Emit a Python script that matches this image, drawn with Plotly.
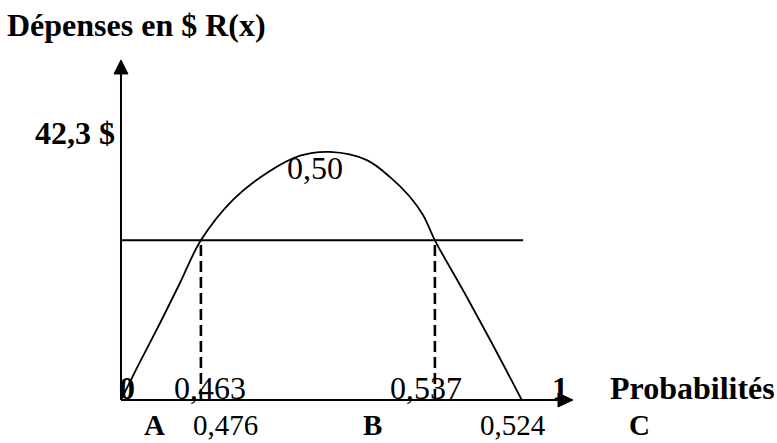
import plotly.graph_objects as go

prob = [0.0, 0.043, 0.089, 0.134, 0.182, 0.255, 0.333, 0.408, 0.476,
        0.560, 0.613, 0.658, 0.688, 0.715, 0.779, 0.841, 0.913]
depenses = [0.0, 6.0, 12.2, 18.5, 25.3, 31.7, 36.0, 38.7, 39.3,
            38.0, 35.3, 32.2, 29.3, 25.3, 17.4, 9.5, 0.0]

seuil = 25.3                # niveau de la droite horizontale
seuil_fin = 0.916           # fin de la droite horizontale
points_seuil = [0.182, 0.715]  # abscisses des pointillés
depense_max = 42.3

labels_haut = ['0', '0,463', '0,537', '1']
labels_bas = ['A', '0,476', 'B', '0,524', 'C']
label_sommet = '0,50'

# bornes des axes dessinés (flèches)
x_fleche = 1.0296
y_fleche = 53.87

POLICE = 'Liberation Serif'
NOIR = '#000000'

fig = go.Figure()

# axes
fig.add_trace(go.Scatter(x=[0, 0], y=[0, y_fleche - 2.0], mode='lines',
                         line=dict(color=NOIR, width=2), hoverinfo='skip'))
fig.add_trace(go.Scatter(x=[0, x_fleche - 0.03], y=[0, 0], mode='lines',
                         line=dict(color=NOIR, width=2), hoverinfo='skip'))

# droite horizontale
fig.add_trace(go.Scatter(x=[0, seuil_fin], y=[seuil, seuil], mode='lines',
                         line=dict(color=NOIR, width=2), hoverinfo='skip'))

# pointillés
for xp in points_seuil:
    fig.add_trace(go.Scatter(x=[xp, xp], y=[0, seuil], mode='lines',
                             line=dict(color=NOIR, width=2.6, dash='11px,5px'),
                             hoverinfo='skip'))

# courbe R(x)
fig.add_trace(go.Scatter(x=prob, y=depenses, mode='lines',
                         line=dict(color=NOIR, width=1.8, shape='spline', smoothing=1.0),
                         hoverinfo='skip'))

# têtes de flèches (en pixels autour de la pointe)
fig.add_shape(type='path', xref='x', yref='y', xsizemode='pixel', ysizemode='pixel',
              xanchor=0, yanchor=y_fleche, path='M0,0 L-7,-14 L7,-14 Z',
              fillcolor=NOIR, line=dict(color=NOIR, width=1))
fig.add_shape(type='path', xref='x', yref='y', xsizemode='pixel', ysizemode='pixel',
              xanchor=x_fleche, yanchor=0, path='M0,0 L-15,7 L-15,-7 Z',
              fillcolor=NOIR, line=dict(color=NOIR, width=1))


def texte(x, y, t, gras=False, xanchor='center', taille=32):
    fig.add_annotation(x=x, y=y, text=f'<b>{t}</b>' if gras else t,
                       showarrow=False, xanchor=xanchor, yanchor='middle',
                       font=dict(family=POLICE, size=taille, color=NOIR))


texte(-0.264, 59.4, 'Dépenses en $ R(x)', gras=True, xanchor='left')
texte(-0.009, depense_max, f'{depense_max:.1f} $'.replace('.', ','), gras=True, xanchor='right')
texte(0.442, 36.8, label_sommet)

pos_haut = [0.0137, 0.2027, 0.6948, 1.0]
gras_haut = [True, False, False, True]
for t, xp, g in zip(labels_haut, pos_haut, gras_haut):
    texte(xp, 1.9, t, gras=g)
texte(1.109, 1.9, 'Probabilités', gras=True, xanchor='left')

pos_bas = [0.0774, 0.239, 0.572, 0.893, 1.18]
gras_bas = [True, False, True, False, True]
for t, xp, g in zip(labels_bas, pos_bas, gras_bas):
    texte(xp, -4.0, t, gras=g, taille=29)

fig.update_layout(
    width=777, height=443,
    margin=dict(l=0, r=0, t=0, b=0),
    paper_bgcolor='white', plot_bgcolor='white',
    showlegend=False,
    xaxis=dict(range=[-0.2756, 1.4943], visible=False, fixedrange=True),
    yaxis=dict(range=[-6.81, 63.37], visible=False, fixedrange=True),
)

# la page a une marge de 8px par défaut : on la retire
fig.write_html("out.html", config={'displayModeBar': False},
               post_script="document.body.style.margin='0';")
